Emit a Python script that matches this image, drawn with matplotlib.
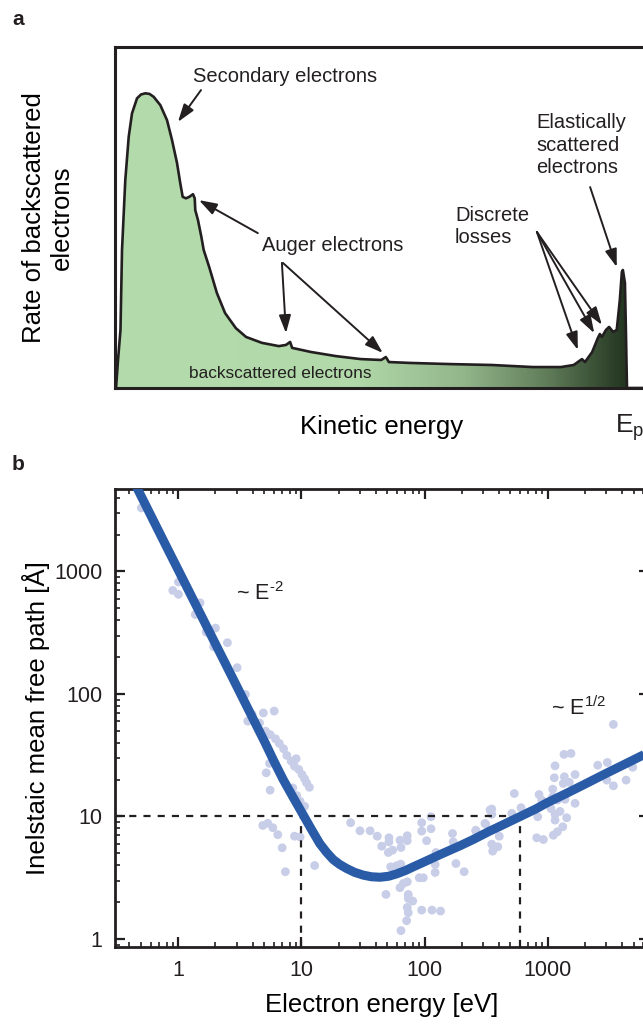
import numpy as np
import matplotlib
matplotlib.use('Agg')
import matplotlib.pyplot as plt
from matplotlib.colors import LinearSegmentedColormap
from matplotlib.ticker import LogLocator, NullFormatter, FixedLocator

plt.rcParams['font.family'] = ['Liberation Sans', 'DejaVu Sans']
plt.rcParams['mathtext.default'] = 'regular'
plt.rcParams['text.color'] = '#231f20'

# ---- panel a: energy spectrum of backscattered electrons (E / Ep, normalised rate)
energy = [0.0, 0.002, 0.0059, 0.0107, 0.0137, 0.0201, 0.0268, 0.0332, 0.0430,
          0.0508, 0.0592, 0.0674, 0.0756, 0.0885, 0.1016, 0.1113, 0.1211, 0.1275,
          0.1322, 0.1387, 0.1451, 0.1523, 0.1557, 0.1568, 0.1621, 0.1686, 0.1732,
          0.184, 0.199, 0.215, 0.236, 0.256, 0.287, 0.320, 0.334, 0.342, 0.346,
          0.383, 0.432, 0.480, 0.520, 0.529, 0.535, 0.576, 0.656, 0.736, 0.816,
          0.871, 0.896, 0.912, 0.918, 0.932, 0.943, 0.947, 0.951, 0.959, 0.965,
          0.973, 0.980, 0.986, 0.990, 0.992, 0.996, 0.998, 1.000, 1.043]
rate = [0.0, 0.0, 0.095, 0.197, 0.468, 0.705, 0.852, 0.931, 0.982,
        0.995, 0.999, 0.997, 0.987, 0.959, 0.908, 0.841, 0.763, 0.694,
        0.648, 0.643, 0.648, 0.657, 0.643, 0.603, 0.569, 0.513, 0.468,
        0.410, 0.322, 0.254, 0.203, 0.173, 0.153, 0.142, 0.146, 0.156, 0.136,
        0.122, 0.108, 0.098, 0.095, 0.105, 0.088, 0.085, 0.081, 0.078, 0.071,
        0.071, 0.078, 0.098, 0.088, 0.122, 0.169, 0.183, 0.173, 0.197, 0.207,
        0.190, 0.197, 0.298, 0.393, 0.400, 0.356, 0.186, 0.0, 0.0]

# ---- panel b: inelastic mean free path (universal curve + measured points)
curve_E = [0.45, 0.6, 0.8, 1, 1.5, 2, 3, 4, 5, 6, 7.1, 8.5, 10.5, 12, 14.1, 16,
           18.1, 20.5, 23.3, 27, 31.8, 37, 43.5, 51, 59.4, 70, 81, 95, 111, 130,
           152, 194, 250, 330, 450, 600, 800, 1000, 1400, 2000, 3000, 4500, 7000]
curve_imfp = [5040, 2830, 1590, 1020, 455, 256, 114, 64, 41, 28, 20, 14.5, 10.0,
              7.9, 6.0, 5.1, 4.45, 4.05, 3.76, 3.5, 3.32, 3.22, 3.19, 3.25, 3.40,
              3.62, 3.88, 4.17, 4.48, 4.82, 5.17, 5.76, 6.5, 7.5, 8.7, 10.0, 11.5,
              13.0, 15.3, 18.3, 22.5, 27.5, 34.3]

pts_E = [0.5, 1.0, 0.90, 1.0, 1.5, 1.37, 2.0, 1.68, 1.93, 2.5, 3.0, 3.5,
         3.66, 3.97, 4.9, 6.0, 4.56, 5.1, 5.56, 6.15, 6.6, 7.15, 7.6, 9.05,
         8.24, 8.77, 9.5, 10.1, 10.6, 11.0, 11.6, 5.5, 5.17, 5.56, 8.5, 9.16,
         9.75, 10.6, 4.85, 5.32, 5.85, 6.42, 6.97, 8.77, 9.75, 12.8, 7.4,
         25.1, 29.9, 36.1, 41.3, 51.4, 51.4, 44.9, 63.2, 72.4, 72.4, 64.4, 55.1,
         50.8, 94.9, 113, 94.9, 113, 104, 169, 171, 124, 122, 122, 180, 210,
         262, 315, 341, 53.1, 64.1, 59.4, 67.3, 63.2, 72.4, 90.7, 97.8, 48.6,
         73.8, 80.2, 73.8, 72.4, 73.8, 94.9, 115, 135, 71.6, 64.4,
         3430, 1361, 1552, 1151, 2559, 3063, 4928, 1135, 1370, 1674, 1504, 1343,
         1102, 3030, 3430, 4350, 537, 853, 897, 1102, 1202, 1387, 1674, 352,
         352, 609, 512, 832, 1067, 1151, 1264, 1432, 1151, 310, 261, 405, 352,
         394, 358, 817, 925, 1114, 1202, 1330]
pts_imfp = [3300, 820, 700, 650, 555, 445, 345, 320, 243, 262, 164, 99,
            60, 68, 70, 72.5, 58, 49.7, 46.6, 43, 39.5, 35.7, 31.5, 29.6,
            28.3, 25.7, 24.2, 22, 20.3, 18.8, 17.3, 27.1, 22.7, 16.4, 17.1, 14.8,
            13.3, 12.1, 8.45, 8.8, 8.1, 7.1, 5.55, 6.9, 6.8, 3.98, 3.54,
            8.89, 7.64, 7.64, 6.9, 6.7, 6.2, 5.72, 6.4, 6.96, 6.34, 5.58, 5.31,
            5.08, 8.89, 9.95, 7.59, 7.94, 6.34, 7.26, 6.21, 5.08, 4.06, 3.49, 4.13,
            3.54, 7.59, 8.65, 11.3, 3.88, 4.08, 3.96, 2.84, 2.62, 2.93, 3.16, 3.16,
            2.31, 2.31, 2.04, 2.14, 1.81, 1.64, 1.72, 1.72, 1.69, 1.41, 1.17,
            56.4, 32.1, 32.7, 25.9, 26.2, 27.6, 25.2, 20.7, 21.1, 22.0, 19.0, 18.6,
            16.7, 19.8, 17.8, 19.8, 15.4, 15.1, 13.6, 14.5, 13.6, 13.8, 12.8, 11.5,
            10.4, 11.8, 10.6, 9.95, 11.6, 10.4, 11.0, 9.76, 9.33, 8.77, 7.72, 6.9,
            5.94, 5.66, 5.21, 6.7, 6.48, 7.03, 7.5, 8.24]

ref_E = [10, 600]
ref_imfp = 10

ink = '#231f20'
fig = plt.figure(figsize=(6.43, 10.25), dpi=100)

# ------------------------------------------------------------------ panel a
ax = fig.add_axes([115/643, 1-388/1025, 534/643, 341/1025])
ax.set_xlim(0, 1.043)
ax.set_ylim(0, 1.156)
poly = ax.fill(energy, rate, facecolor='none', edgecolor='none')[0]
greens = LinearSegmentedColormap.from_list(
    'greens', [(0.0, '#b3dbab'), (0.47, '#b1d9a9'), (0.68, '#93b68b'),
               (0.84, '#627f5b'), (1.0, '#233520')])
grad = np.linspace(0, 1, 512).reshape(1, -1)
im = ax.imshow(grad, extent=[0, 1.0, 0, 1.156], aspect='auto', cmap=greens,
               origin='lower', zorder=1)
im.set_clip_path(poly)
ax.plot(energy, rate, color=ink, lw=1.9, zorder=3, solid_joinstyle='round')
for s in ax.spines.values():
    s.set_linewidth(2.2)
    s.set_color(ink)
ax.set_xticks([])
ax.set_yticks([])
ax.set_ylabel('Rate of backscattered\nelectrons', fontsize=18.5, linespacing=1.2)
ax.yaxis.set_label_coords(-0.077, 0.5)
ax.set_xlabel('Kinetic energy', fontsize=18.5, va='top')
ax.xaxis.set_label_coords(0.5, -0.080)
ax.text(0.977, -0.132, r'E$_\mathregular{p}$', transform=ax.get_xaxis_transform(),
        fontsize=19, ha='left', va='baseline')

arw = dict(arrowstyle='-|>,head_length=0.9,head_width=0.3', color=ink, lw=1.4,
           shrinkA=0, shrinkB=0, mutation_scale=12)
ax.text(0.152, 1.037, 'Secondary electrons', fontsize=14.5, va='baseline')
ax.annotate('', xy=(0.123, 0.902), xytext=(0.168, 1.010), arrowprops=arw)
ax.text(0.287, 0.464, 'Auger electrons', fontsize=14.5, va='baseline')
ax.annotate('', xy=(0.164, 0.637), xytext=(0.279, 0.525), arrowprops=arw)
ax.annotate('', xy=(0.334, 0.186), xytext=(0.326, 0.424), arrowprops=arw)
ax.annotate('', xy=(0.523, 0.119), xytext=(0.328, 0.424), arrowprops=arw)
ax.text(0.664, 0.4915, 'Discrete\nlosses', fontsize=14.5, va='baseline')
for head in [(0.904, 0.129), (0.936, 0.186), (0.951, 0.214)]:
    ax.annotate('', xy=head, xytext=(0.824, 0.529), arrowprops=arw)
ax.text(0.823, 0.881, 'Elastically', fontsize=14.5, va='baseline')
ax.text(0.823, 0.805, 'scattered', fontsize=14.5, va='baseline')
ax.text(0.823, 0.729, 'electrons', fontsize=14.5, va='baseline')
ax.annotate('', xy=(0.980, 0.410), xytext=(0.928, 0.681), arrowprops=arw)
ax.text(0.322, 0.034, 'backscattered electrons', fontsize=12.4, ha='center',
        va='baseline', zorder=4)

# ------------------------------------------------------------------ panel b
bx = fig.add_axes([115/643, 1-947/1025, 534/643, 458/1025])
bx.set_xscale('log')
bx.set_yscale('log')
bx.set_xlim(0.305, 6680)
bx.set_ylim(0.86, 4710)
bx.scatter(pts_E, pts_imfp, s=40, color='#c8cde8', edgecolors='none', zorder=1)
bx.plot([0.305, ref_E[1]], [ref_imfp, ref_imfp], color=ink, lw=1.6,
        dashes=(3.2, 3.2), zorder=2)
for e in ref_E:
    bx.plot([e, e], [0.86, ref_imfp], color=ink, lw=1.6, dashes=(3.2, 3.2), zorder=2)
bx.plot(curve_E, curve_imfp, color='#2a5ba6', lw=6.5, solid_capstyle='butt',
        solid_joinstyle='round', zorder=3)
for s in bx.spines.values():
    s.set_linewidth(2.0)
    s.set_color(ink)
bx.xaxis.set_major_locator(FixedLocator([1, 10, 100, 1000]))
bx.yaxis.set_major_locator(FixedLocator([1, 10, 100, 1000]))
bx.set_xticklabels(['1', '10', '100', '1000'])
bx.set_yticklabels(['1', '10', '100', '1000'])
bx.xaxis.set_minor_locator(LogLocator(base=10, subs=np.arange(2, 10)))
bx.yaxis.set_minor_locator(LogLocator(base=10, subs=np.arange(2, 10)))
bx.xaxis.set_minor_formatter(NullFormatter())
bx.yaxis.set_minor_formatter(NullFormatter())
bx.tick_params(which='both', direction='in', top=True, right=True, color=ink,
               labelcolor=ink, labelsize=15.5)
bx.tick_params(which='major', length=7, width=1.6)
bx.tick_params(which='minor', length=3.5, width=1.2)
bx.tick_params(axis='y', which='major', pad=9)
bx.tick_params(axis='x', which='major', pad=9)
bx.set_xlabel('Electron energy [eV]', fontsize=18.5, va='top')
bx.xaxis.set_label_coords(0.5, -0.101)
bx.set_ylabel('Inelstaic mean free path [Å]', fontsize=18.5)
bx.yaxis.set_label_coords(-0.122, 0.5)
bx.text(2.93, 585, '~ E$^{\u2010 2}$', fontsize=15.5, va='baseline')
bx.text(1067, 67.4, r'~ E$^{1/2}$', fontsize=15.5, va='baseline')

fig.text(12/643, 1-25/1025, 'a', fontsize=15, fontweight='bold')
fig.text(12/643, 1-470/1025, 'b', fontsize=15, fontweight='bold')

fig.savefig('out.png', dpi=100)
